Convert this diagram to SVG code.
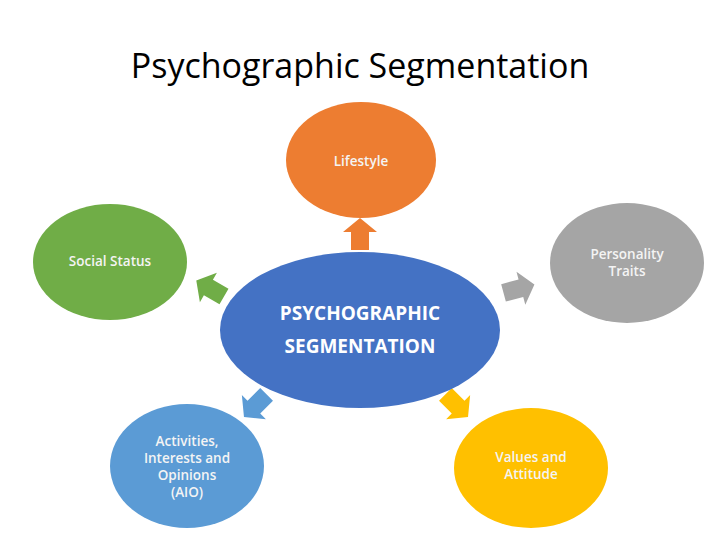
<svg xmlns="http://www.w3.org/2000/svg" width="720" height="540" viewBox="0 0 720 540">
<style>
.t{font-family:"Open Sans","Liberation Sans",sans-serif;fill:#f4f4f4;font-size:13.5px;font-weight:600;text-anchor:middle}
.c{font-family:"Open Sans","Liberation Sans",sans-serif;fill:#fff;font-size:19px;font-weight:bold;text-anchor:middle}
</style>
<defs><path id="ar" d="M-15,-9 L3,-9 L3,-17 L17,0 L3,17 L3,9 L-15,9 Z"/></defs>
<rect width="720" height="540" fill="#fff"/>
<text x="360" y="78" font-family="'Open Sans','Liberation Sans',sans-serif" font-size="34" text-anchor="middle" fill="#000">Psychographic Segmentation</text>
<g id="connectors">
<use href="#ar" fill="#ED7D31" transform="translate(360,235) rotate(-90)"/>
<use href="#ar" fill="#70AD47" transform="translate(211,289) rotate(-150)"/>
<use href="#ar" fill="#A5A5A5" transform="translate(518,289) rotate(-15)"/>
<use href="#ar" fill="#5B9BD5" transform="translate(256,405) rotate(135)"/>
<use href="#ar" fill="#FFC000" transform="translate(456,405) rotate(45)"/>
</g>
<g id="center"><ellipse cx="360" cy="330" rx="140" ry="78" fill="#4472C4"/>
<text class="c" x="360" y="320">PSYCHOGRAPHIC</text><text class="c" x="360" y="353">SEGMENTATION</text></g>
<g id="lifestyle"><ellipse cx="361" cy="160" rx="75" ry="58" fill="#ED7D31"/><text class="t" x="361" y="166">Lifestyle</text></g>
<g id="social"><ellipse cx="110" cy="262" rx="77" ry="58" fill="#70AD47"/><text class="t" x="110" y="266">Social Status</text></g>
<g id="personality"><ellipse cx="627" cy="263" rx="77" ry="60" fill="#A5A5A5"/><text class="t" x="627" y="259">Personality</text><text class="t" x="627" y="276">Traits</text></g>
<g id="aio"><ellipse cx="187" cy="466" rx="77" ry="62" fill="#5B9BD5"/><text class="t" x="187" y="446">Activities,</text><text class="t" x="187" y="463">Interests and</text><text class="t" x="187" y="480">Opinions</text><text class="t" x="187" y="497">(AIO)</text></g>
<g id="values"><ellipse cx="531" cy="468" rx="77" ry="60" fill="#FFC000"/><text class="t" x="531" y="462">Values and</text><text class="t" x="531" y="479">Attitude</text></g>
</svg>
